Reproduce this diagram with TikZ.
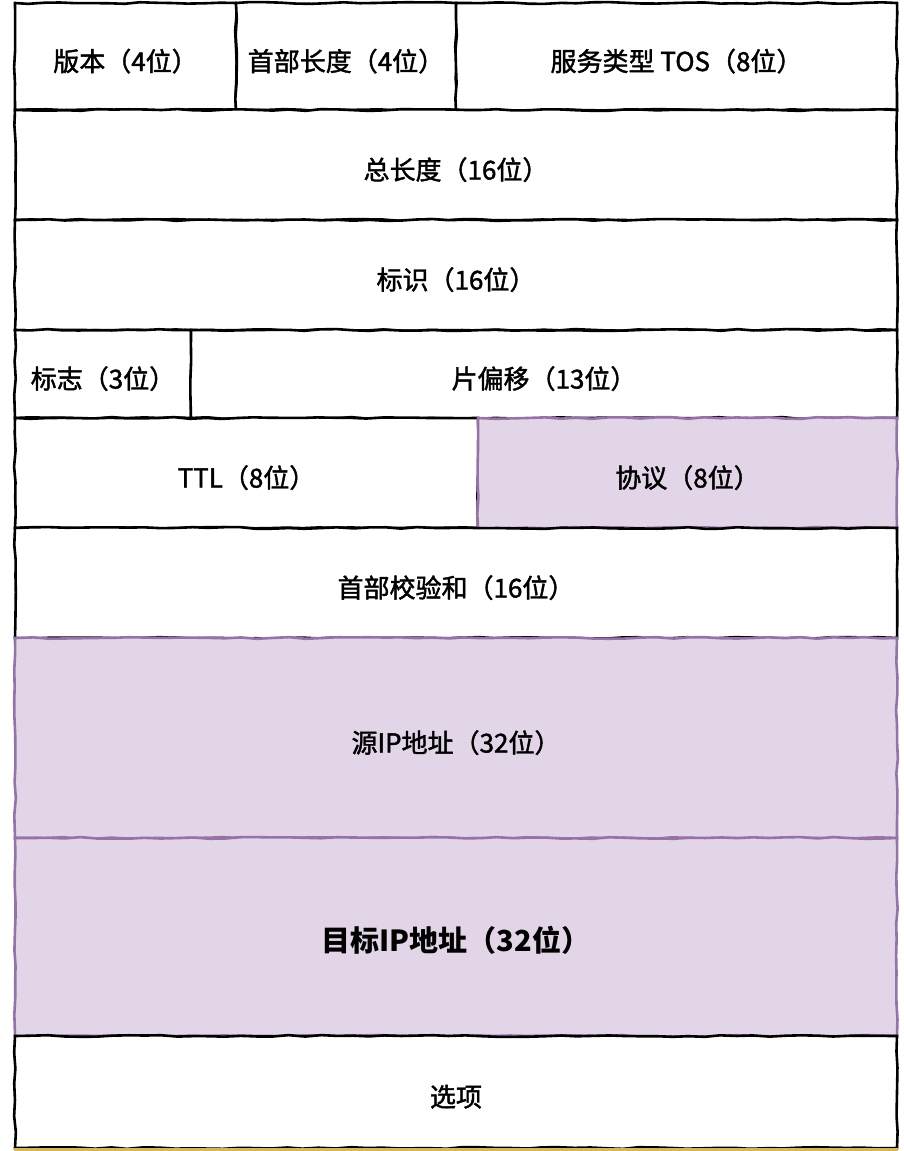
\documentclass[tikz,border=0pt]{standalone}
\usepackage{fontspec}
\setmainfont{Noto Sans CJK SC}
\newfontfamily\fieldfont{Noto Sans CJK SC}[FakeBold=1.6]
\usepackage{tikz}
\usetikzlibrary{decorations.pathmorphing}

\definecolor{lilac}{HTML}{E1D5E7}
\definecolor{lilacline}{HTML}{9673A6}
\definecolor{sand}{HTML}{D6B656}

\tikzset{
  field/.style={draw=black, fill=white, line width=2.6pt, rectangle, inner sep=0pt,
    font=\fieldfont\fontsize{26}{30}\selectfont, text height=32pt, text depth=3pt,
    decorate, decoration={random steps, segment length=16pt, amplitude=0.9pt}},
  hot/.style={field, fill=lilac, draw=lilacline}
}

\begin{document}
\begin{tikzpicture}[x=1pt, y=-1pt]
\useasboundingbox (0,0) rectangle (903,1151);

% first word
\node[field, minimum width=221, minimum height=107] (ver) at (125.5,56.5) {版本（4位）};
\node[field, minimum width=220, minimum height=107] (hlen) at (346,56.5) {首部长度（4位）};
\node[field, minimum width=441, minimum height=107] (tos) at (676.5,56.5) {服务类型 TOS（8位）};

\node[field, minimum width=882, minimum height=110] (tlen) at (456,165) {总长度（16位）};
\node[field, minimum width=882, minimum height=110] (ident) at (456,275) {标识（16位）};

\node[field, minimum width=176, minimum height=88] (flags) at (103,374) {标志（3位）};
\node[field, minimum width=706, minimum height=88] (frag) at (544,374) {片偏移（13位）};

\node[field, minimum width=463, minimum height=110] (ttl) at (246.5,473) {TTL（8位）};
\node[hot, minimum width=419, minimum height=110] (proto) at (687.5,473) {协议（8位）};

\node[field, minimum width=882, minimum height=110] (cksum) at (456,583) {首部校验和（16位）};

% addresses
\node[hot, minimum width=882, minimum height=200] (src) at (456,738) {源IP地址（32位）};
\node[hot, minimum width=882, minimum height=198, font=\fontsize{29}{33}\selectfont\bfseries] (dst) at (456,937) {目标IP地址（32位）};

\node[field, minimum width=882, minimum height=112] (opt) at (456,1092) {选项};
\draw[sand, line width=2.6pt] (opt.south west) -- (opt.south east);

\end{tikzpicture}
\end{document}
